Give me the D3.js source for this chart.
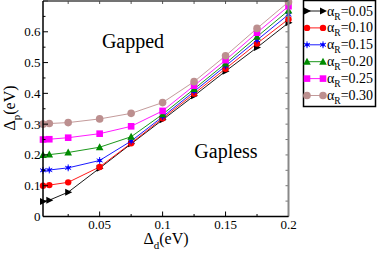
<!DOCTYPE html>
<html>
<head>
<meta charset="utf-8">
<script src="https://cdn.jsdelivr.net/npm/d3@7"></script>
<style>
  body { margin: 0; background: #fff; }
  svg text { font-family: "Liberation Serif", "Times New Roman", serif; }
</style>
</head>
<body>
<script>
(function() {

  // Data
  var deltaD = [0.005, 0.01, 0.025, 0.05, 0.075, 0.1, 0.125, 0.15, 0.175, 0.2];
  var alphaLabels = ["0.05", "0.10", "0.15", "0.20", "0.25", "0.30"];
  var a005 = [0.049, 0.053, 0.079, 0.157, 0.236, 0.314, 0.392, 0.472, 0.549, 0.629];
  var a010 = [0.100, 0.102, 0.111, 0.161, 0.238, 0.319, 0.399, 0.480, 0.562, 0.641];
  var a015 = [0.150, 0.151, 0.158, 0.182, 0.245, 0.324, 0.406, 0.489, 0.573, 0.656];
  var a020 = [0.200, 0.201, 0.208, 0.225, 0.259, 0.332, 0.414, 0.497, 0.584, 0.669];
  var a025 = [0.250, 0.251, 0.256, 0.269, 0.293, 0.343, 0.425, 0.508, 0.597, 0.683];
  var a030 = [0.300, 0.302, 0.305, 0.317, 0.335, 0.370, 0.438, 0.522, 0.611, 0.697];
  var xTicks = [0.05, 0.1, 0.15, 0.2];
  var yTicks = [0, 0.1, 0.2, 0.3, 0.4, 0.5, 0.6];

  var seriesValues = [a005, a010, a015, a020, a025, a030];
  var colors = ["#000000", "#ff0000", "#0000ff", "#008b00", "#ff00ff", "#bc8f8f"];
  var shapes = ["triRight", "circleSmall", "star", "triangle", "square", "circle"];

  var width = 382, height = 254;
  var svg = d3.select("body").append("svg")
      .attr("width", width)
      .attr("height", height);

  var plotLeft = 43, plotRight = 288.5, plotTop = 1, plotBottom = 216.5;

  var x = d3.scaleLinear().domain([0.005, 0.2]).range([plotLeft, plotRight]);
  var y = d3.scaleLinear().domain([0, 0.7]).range([plotBottom, plotTop]);

  // Marker drawing helper
  function drawMarker(g, shape, color, cx, cy) {
    if (shape == "triRight") {
      g.append("path")
        .attr("d", "M-3,-3.5L4,0L-3,3.5Z")
        .attr("transform", "translate(" + cx + "," + cy + ")")
        .attr("fill", color);
    } else if (shape == "circleSmall") {
      g.append("circle").attr("cx", cx).attr("cy", cy).attr("r", 3.2).attr("fill", color);
    } else if (shape == "star") {
      g.append("path")
        .attr("d", d3.symbol().type(d3.symbolAsterisk).size(32)())
        .attr("transform", "translate(" + cx + "," + cy + ")")
        .attr("stroke", color).attr("stroke-width", 1).attr("fill", "none");
      g.append("circle").attr("cx", cx).attr("cy", cy).attr("r", 1.8).attr("fill", color);
    } else if (shape == "triangle") {
      g.append("path")
        .attr("d", "M0,-4L3.8,3L-3.8,3Z")
        .attr("transform", "translate(" + cx + "," + cy + ")")
        .attr("fill", color);
    } else if (shape == "square") {
      g.append("rect").attr("x", cx - 3.3).attr("y", cy - 3.3)
        .attr("width", 6.6).attr("height", 6.6).attr("fill", color);
    } else {
      g.append("circle").attr("cx", cx).attr("cy", cy).attr("r", 3.8).attr("fill", color);
    }
  }

  // Series
  var line = d3.line()
      .x(function(d, i) { return x(deltaD[i]); })
      .y(function(d) { return y(d); });

  var plot = svg.append("g");
  seriesValues.forEach(function(vals, s) {
    plot.append("path")
      .datum(vals)
      .attr("d", line)
      .attr("fill", "none")
      .attr("stroke", colors[s])
      .attr("stroke-width", 0.9);
  });
  seriesValues.forEach(function(vals, s) {
    vals.forEach(function(v, i) {
      drawMarker(plot, shapes[s], colors[s], x(deltaD[i]), y(v));
    });
  });

  // Axes (ticks inward)
  var xMinor = d3.range(0.025, 0.2001, 0.025);
  var yMinor = d3.range(0.05, 0.7001, 0.05);

  var bottom = svg.append("g").attr("transform", "translate(0," + plotBottom + ")");
  bottom.selectAll(".xminor").data(xMinor).enter().append("line")
    .attr("x1", function(d) { return x(d); }).attr("x2", function(d) { return x(d); })
    .attr("y1", 0).attr("y2", function(d) { return xTicks.some(function(t) { return Math.abs(t - d) < 1e-6; }) ? -5 : -2.5; })
    .attr("stroke", "#000").attr("stroke-width", 1);
  bottom.selectAll(".xlab").data(xTicks).enter().append("text")
    .attr("x", function(d) { return x(d); })
    .attr("y", 12.5)
    .attr("text-anchor", "middle")
    .attr("font-size", "13px")
    .text(function(d) { return d; });

  var left = svg.append("g").attr("transform", "translate(" + plotLeft + ",0)");
  left.selectAll(".yminor").data(yMinor).enter().append("line")
    .attr("y1", function(d) { return y(d); }).attr("y2", function(d) { return y(d); })
    .attr("x1", 0).attr("x2", function(d) { return Math.abs(Math.round(d * 10) - d * 10) < 1e-6 ? 5 : 2.5; })
    .attr("stroke", "#000").attr("stroke-width", 1);
  left.selectAll(".ylab").data(yTicks).enter().append("text")
    .attr("x", -2.5)
    .attr("y", function(d) { return y(d) + 4.5; })
    .attr("text-anchor", "end")
    .attr("font-size", "13px")
    .text(function(d) { return d; });

  // Top and right (mirrored ticks)
  svg.selectAll(".tticks").data(xMinor).enter().append("line")
    .attr("x1", function(d) { return x(d); }).attr("x2", function(d) { return x(d); })
    .attr("y1", plotTop).attr("y2", plotTop + 3)
    .attr("stroke", "#555").attr("stroke-width", 1);
  svg.selectAll(".rticks").data(yMinor).enter().append("line")
    .attr("y1", function(d) { return y(d); }).attr("y2", function(d) { return y(d); })
    .attr("x1", plotRight).attr("x2", plotRight - 3)
    .attr("stroke", "#777").attr("stroke-width", 1);

  svg.append("line").attr("x1", plotLeft).attr("x2", plotRight).attr("y1", plotTop).attr("y2", plotTop)
    .attr("stroke", "#444").attr("stroke-width", 1.5);
  svg.append("line").attr("x1", plotRight).attr("x2", plotRight).attr("y1", plotTop).attr("y2", plotBottom)
    .attr("stroke", "#888").attr("stroke-width", 2);
  svg.append("line").attr("x1", plotLeft).attr("x2", plotLeft).attr("y1", plotTop).attr("y2", plotBottom)
    .attr("stroke", "#000").attr("stroke-width", 1.5);
  svg.append("line").attr("x1", plotLeft).attr("x2", plotRight).attr("y1", plotBottom).attr("y2", plotBottom)
    .attr("stroke", "#000").attr("stroke-width", 1.5);

  // Axis titles
  var xt = svg.append("text")
    .attr("x", 166).attr("y", 244)
    .attr("text-anchor", "middle")
    .attr("font-size", "16px");
  xt.append("tspan").text("\u0394");
  xt.append("tspan").attr("font-size", "11px").attr("dy", 5).text("d");
  xt.append("tspan").attr("dy", -5).text("(eV)");

  var yt = svg.append("text")
    .attr("transform", "translate(15,108) rotate(-90)")
    .attr("text-anchor", "middle")
    .attr("font-size", "16px");
  yt.append("tspan").text("\u0394");
  yt.append("tspan").attr("font-size", "11px").attr("dy", 5).text("p");
  yt.append("tspan").attr("dy", -5).text("(eV)");

  // Region labels
  svg.append("text").attr("x", 133).attr("y", 48)
    .attr("text-anchor", "middle").attr("font-size", "20px").text("Gapped");
  svg.append("text").attr("x", 226).attr("y", 158)
    .attr("text-anchor", "middle").attr("font-size", "20px").text("Gapless");

  // Legend
  var legend = svg.append("g");
  legend.append("rect")
    .attr("x", 303.5).attr("y", 0.5)
    .attr("width", 72).attr("height", 106)
    .attr("fill", "#fff").attr("stroke", "#000").attr("stroke-width", 1.5);
  alphaLabels.forEach(function(lab, s) {
    var ly = 11 + s * 16.9;
    legend.append("line")
      .attr("x1", 307).attr("x2", 323).attr("y1", ly).attr("y2", ly)
      .attr("stroke", colors[s]).attr("stroke-width", 0.9);
    drawMarker(legend, shapes[s], colors[s], 307, ly);
    drawMarker(legend, shapes[s], colors[s], 323, ly);
    var t = legend.append("text")
      .attr("x", 327).attr("y", ly + 4.5)
      .attr("font-size", "14px");
    t.append("tspan").text("\u03b1");
    t.append("tspan").attr("font-size", "9.5px").attr("dy", 4).text("R");
    t.append("tspan").attr("dy", -4).text("=" + lab);
  });

})();
</script>
</body>
</html>
